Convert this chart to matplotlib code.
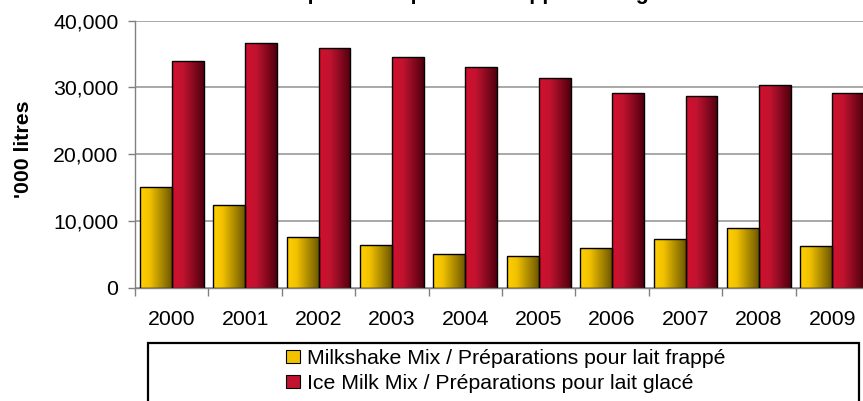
import numpy as np
import matplotlib
matplotlib.use("Agg")
import matplotlib.pyplot as plt
from matplotlib.colors import LinearSegmentedColormap
from matplotlib.patches import Rectangle, Patch
from matplotlib.ticker import FuncFormatter

plt.rcParams['font.family'] = ['Liberation Sans', 'DejaVu Sans']

# data ('000 litres)
years = ["2000", "2001", "2002", "2003", "2004", "2005", "2006", "2007", "2008", "2009"]
milkshake = [15150, 12450, 7550, 6350, 5000, 4700, 5900, 7250, 8900, 6200]
ice_milk = [33900, 36600, 35950, 34500, 33000, 31400, 29100, 28700, 30300, 29100]
labels = ["Milkshake Mix / Préparations pour lait frappé",
          "Ice Milk Mix / Préparations pour lait glacé"]
title = "Préparations pour lait frappé et lait glacé"

yellow_cm = LinearSegmentedColormap.from_list(
    "yel", [(0, "#FFCE00"), (0.3, "#F2C200"), (1, "#6E5800")])
red_cm = LinearSegmentedColormap.from_list(
    "red", [(0, "#D2102E"), (0.35, "#C01330"), (1, "#50000E")])

W, H = 863, 401
fig = plt.figure(figsize=(W / 100, H / 100), dpi=100)
ax = fig.add_axes([135 / W, 1 - 287.7 / H, 734 / W, 267 / H])

x = np.arange(len(years))
bw = 0.435
grad = np.linspace(0, 1, 256).reshape(1, -1)

for vals, off, cm in [(milkshake, -bw / 2, yellow_cm), (ice_milk, bw / 2, red_cm)]:
    bars = ax.bar(x + off, vals, bw, facecolor="none", edgecolor="black",
                  linewidth=1.0, zorder=3)
    for b in bars:
        x0, w, h = b.get_x(), b.get_width(), b.get_height()
        im = ax.imshow(grad, extent=[x0, x0 + w, 0, h], aspect="auto",
                       cmap=cm, zorder=2, interpolation="bilinear")
        im.set_clip_path(b)

ax.set_xlim(-0.5, len(years) - 0.5)
ax.set_ylim(0, 40000)
ax.set_axisbelow(True)

ax.set_yticks(np.arange(0, 40001, 10000))
ax.yaxis.set_major_formatter(FuncFormatter(lambda v, p: f"{int(v):,}"))
ax.grid(axis="y", color="#999999", linewidth=1.2)
ax.tick_params(axis="y", length=5, width=1, color="#808080", pad=7, labelsize=15.3)

ax.set_xticks(np.arange(len(years) + 1) - 0.5)
ax.set_xticklabels([])
ax.set_xticks(x, minor=True)
ax.set_xticklabels(years, minor=True)
ax.tick_params(axis="x", which="major", length=6, width=1, color="#808080")
ax.tick_params(axis="x", which="minor", length=0, pad=16, labelsize=15.3)

for s in ["top", "right"]:
    ax.spines[s].set_visible(False)
for s in ["left", "bottom"]:
    ax.spines[s].set_color("#808080")
    ax.spines[s].set_linewidth(1)

ax.set_ylabel("'000 litres", fontsize=15.3, fontweight="bold")
ax.yaxis.set_label_coords(-102 / 734, 0.52)

# title, mostly cut off by the top edge
fig.text(482 / W, 1 + 0.8 / H, title, ha="center", va="baseline",
         fontsize=15.5, fontweight="bold")

# legend box
fig.patches.append(Rectangle((148 / W, -0.1), 711 / W, 0.1 + 1 - 343 / H,
                             transform=fig.transFigure, fill=False,
                             edgecolor="black", linewidth=1.6))
handles = [Patch(facecolor="#F2C200", edgecolor="black", linewidth=0.8),
           Patch(facecolor="#C01330", edgecolor="black", linewidth=0.8)]
fig.legend(handles, labels, loc="center", bbox_to_anchor=(506 / W, 1 - 371 / H),
           frameon=False, fontsize=15.3, handlelength=0.62, handleheight=0.62,
           handletextpad=0.35, labelspacing=0.28, borderpad=0)

fig.savefig("out.png", dpi=100)
